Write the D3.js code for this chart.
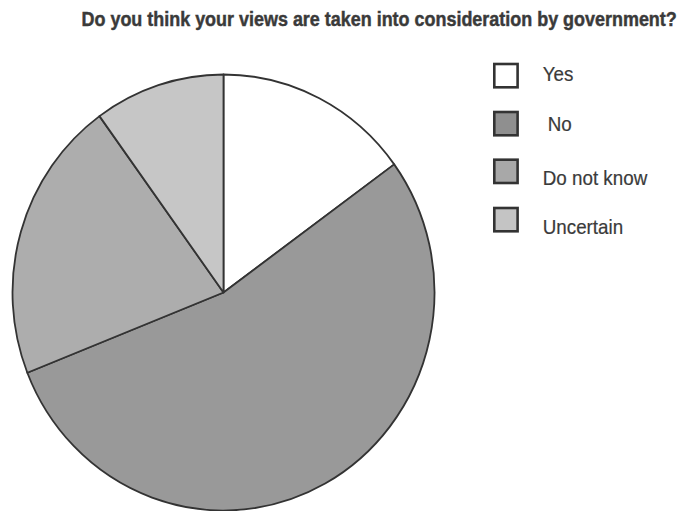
<!DOCTYPE html>
<html>
<head>
<meta charset="utf-8">
<script src="https://cdn.jsdelivr.net/npm/d3@7/dist/d3.min.js"></script>
<style>
  html, body { margin: 0; padding: 0; background: #fff; }
  svg text { font-family: "Liberation Sans", Arial, Helvetica, sans-serif; }
</style>
</head>
<body>
<svg id="chart" width="680" height="511"></svg>
<script>
// Survey responses (percent of respondents)
const categories = ["Yes", "No", "Do not know", "Uncertain"];
const values = [15, 54, 21, 10];
const legendLabels = ["Yes", "No", "Do not know", "Uncertain"];
const colors = ["#ffffff", "#999999", "#adadad", "#c6c6c6"];
const legendColors = ["#ffffff", "#8f8f8f", "#a8a8a8", "#c4c4c4"];
const title = "Do you think your views are taken into consideration by government?";

const svg = d3.select("#chart");

// Draw text in a condensed face by squeezing a regular one horizontally
function condensedText(parent, x, y, str, size, weight, targetWidth) {
  const g = parent.append("g");
  const t = g.append("text")
    .attr("x", 0)
    .attr("y", 0)
    .attr("font-size", size)
    .attr("font-weight", weight)
    .attr("fill", "#3a3a3a")
    .attr("stroke", "#3a3a3a")
    .attr("stroke-width", 0.45)
    .text(str);
  const w = t.node().getComputedTextLength();
  const k = targetWidth ? targetWidth / w : 0.82;
  g.attr("transform", `translate(${x},${y}) scale(${k},1)`);
  return k;
}

// Title
condensedText(svg, 81.5, 26, title, 19.5, "bold", 595.5);

// Pie (slightly taller than wide)
const cx = 223.5, cy = 292.5, rx = 211, ry = 218;
const pie = d3.pie().sort(null).value(d => d.value);
const arc = d3.arc().innerRadius(0).outerRadius(rx);
const data = categories.map((c, i) => ({ name: c, value: values[i] }));
const color = d3.scaleOrdinal().domain(categories).range(colors);

const g = svg.append("g")
  .attr("transform", `translate(${cx},${cy}) scale(1,${ry / rx})`);

g.selectAll("path")
  .data(pie(data))
  .join("path")
  .attr("d", arc)
  .attr("fill", d => color(d.data.name))
  .attr("stroke", "#333")
  .attr("stroke-width", 1.8)
  .attr("vector-effect", "non-scaling-stroke")
  .attr("stroke-linejoin", "round");

// Legend
const boxY = [64, 112, 159.7, 208];
const textY = [81, 130.7, 185, 234];
const textX = [542.7, 547.7, 542.7, 542.7];
const legend = svg.append("g");

// common horizontal squeeze taken from the widest label
const probe = legend.append("text").attr("font-size", 20).text("Do not know");
const squeeze = 104.6 / probe.node().getComputedTextLength();
probe.remove();

categories.forEach((c, i) => {
  legend.append("rect")
    .attr("x", 494.3)
    .attr("y", boxY[i])
    .attr("width", 23.3)
    .attr("height", 23.3)
    .attr("fill", legendColors[i])
    .attr("stroke", "#333")
    .attr("stroke-width", 2.6);
  legend.append("text")
    .attr("transform", `translate(${textX[i]},${textY[i]}) scale(${squeeze},1)`)
    .attr("font-size", 20)
    .attr("fill", "#3a3a3a")
    .attr("stroke", "#3a3a3a")
    .attr("stroke-width", 0.2)
    .text(legendLabels[i]);
});
</script>
</body>
</html>
